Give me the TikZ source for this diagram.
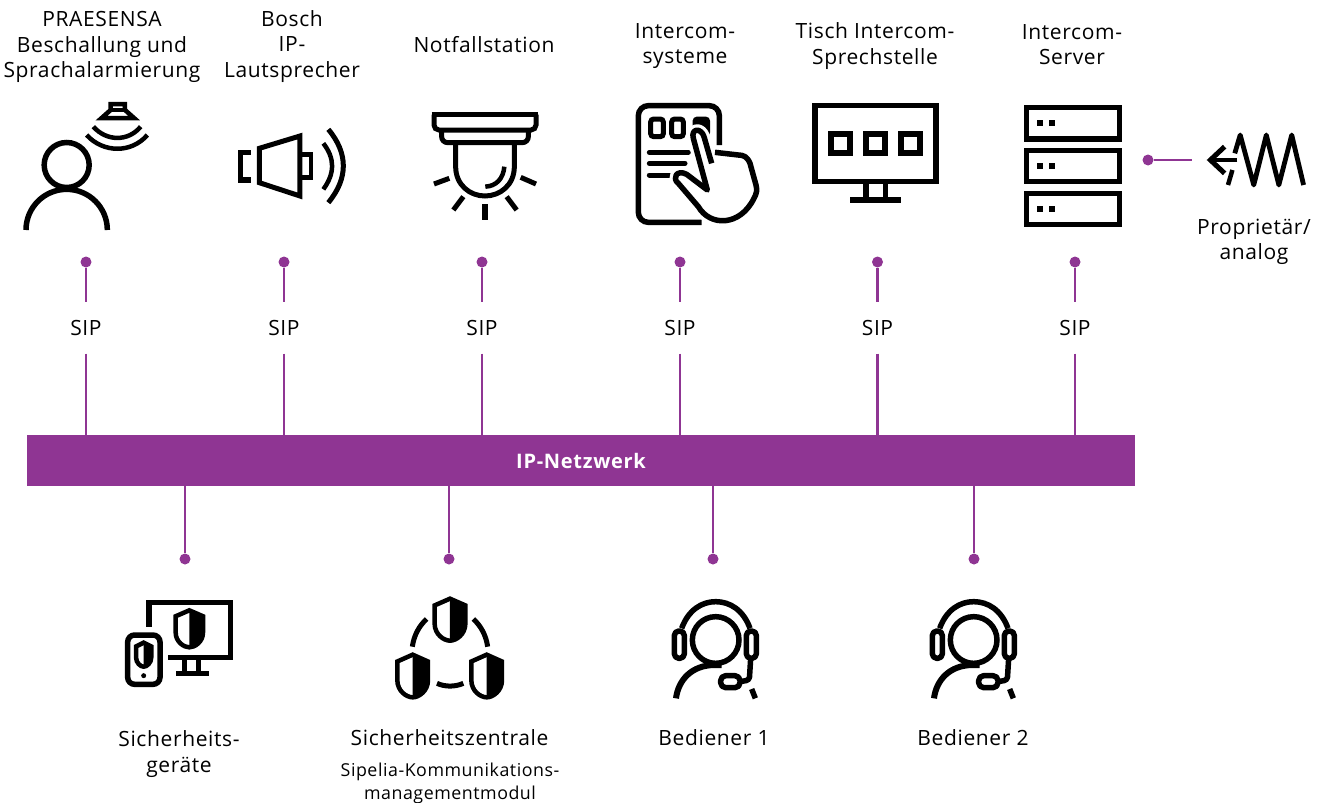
\documentclass[tikz,border=0pt]{standalone}
\usepackage{fontspec}
\setmainfont{Open Sans}
\newfontfamily\spaced[LetterSpace=3]{Open Sans}
\newfontfamily\spacedb[LetterSpace=3.5]{Open Sans}
\definecolor{netp}{HTML}{8F3593}
\newcommand{\lbl}{\spaced\fontsize{21}{25.5}\selectfont}
\newcommand{\lbs}{\spaced\fontsize{17.8}{23}\selectfont}
\tikzset{
  x=1pt,y=-1pt,
  txt/.style={align=center,inner sep=0pt,text=black,font=\lbl},
  txs/.style={align=center,inner sep=0pt,text=black,font=\lbs},
  sip/.style={txt,minimum height=51pt},
  dot/.style={circle,fill=netp,draw=none,minimum size=11pt,inner sep=0pt},
  wire/.style={draw=netp,line width=2.8pt},
  ic/.style={draw=black,line width=5.5pt,fill=none},
  ict/.style={draw=black,line width=4.5pt,fill=none},
  zm/.style={scale=0.33333},
  zw/.style={xscale=0.339,yscale=0.33333},
}
\newcommand{\shield}[5]{% cx top halfw bottom lw
  \fill[black] (#1,#2) -- (#1+#3,#2+0.16*#4-0.16*#2) -- (#1+#3,#2+0.6*#4-0.6*#2) .. controls (#1+#3,#2+0.85*#4-0.85*#2) and (#1+0.4*#3,#4) .. (#1,#4) -- cycle;
  \draw[draw=black,line width=#5,line join=miter] (#1,#2) -- (#1+#3,#2+0.16*#4-0.16*#2) -- (#1+#3,#2+0.6*#4-0.6*#2) .. controls (#1+#3,#2+0.85*#4-0.85*#2) and (#1+0.4*#3,#4) .. (#1,#4) .. controls (#1-0.4*#3,#4) and (#1-#3,#2+0.85*#4-0.85*#2) .. (#1-#3,#2+0.6*#4-0.6*#2) -- (#1-#3,#2+0.16*#4-0.16*#2) -- cycle;
}
\newcommand{\headset}{%
  \draw[ic,line width=5.5pt] (197,165) circle (70);
  \draw[ic,line width=5.5pt] (95,130) .. controls (115,75) and (155,50) .. (197,50) .. controls (240,50) and (280,75) .. (300,130);
  \draw[ic,line width=5.5pt,rounded corners=4.5pt,line join=round] (73,138) rectangle (103,220);
  \draw[ic,line width=5.5pt,rounded corners=4.5pt,line join=round] (289,138) rectangle (319,220);
  \draw[ic,line width=6pt] (78,340) .. controls (85,285) and (125,240) .. (195,240) -- (215,240);
  \draw[ic,line width=5.5pt,rounded corners=3pt,line join=round] (302,220) -- (298,285) -- (270,290);
  \draw[ic,line width=5.5pt,rounded corners=5pt,line join=round] (212,272) rectangle (270,308);
  \draw[ic,line width=5.5pt] (305,312) -- (316,340);
}
\begin{document}
\begin{tikzpicture}
\useasboundingbox (0,0) rectangle (1323,803);
% network bar
\node[fill=netp,minimum width=1108pt,minimum height=51pt,inner sep=0pt,text=white,font=\spacedb\fontsize{20}{22}\selectfont\bfseries] (net) at (581,460.5) {IP-Netzwerk};
% upper branches
\foreach \i/\xx in {1/86,2/284,3/482,4/680,5/877.5,6/1075}{
  \node[dot] (d\i) at (\xx,262) {};
  \node[sip] (s\i) at (\xx,328) {SIP};
  \draw[wire] (d\i) -- (s\i.north);
  \draw[wire] (s\i.south) -- (s\i.south |- net.north);
}
% lower branches
\foreach \i/\xx in {7/185,8/449,9/713,10/974}{
  \node[dot] (d\i) at (\xx,559) {};
  \draw[wire] (d\i |- net.south) -- (d\i);
}
% proprietary link
\node[dot] (dp) at (1148,160) {};
\coordinate (ep) at (1192,160);
\draw[wire] (dp) -- (ep);
% labels
\node[txt] (t1) at (102,47) {PRAESENSA\\Beschallung und\\Sprachalarmierung};
\node[txt] (t2) at (292,46.5) {Bosch\\IP-\\Lautsprecher};
\node[txt] (t3) at (484,44.5) {Notfallstation};
\node[txt] (t4) at (685,46) {Intercom-\\systeme};
\node[txt] (t5) at (875,46) {Tisch Intercom-\\Sprechstelle};
\node[txt] (t6) at (1072,44.5) {Intercom-\\Server};
\node[txt] (t7) at (1254,242) {Proprietär/\\analog};
\node[txt] (b1) at (179,754) {Sicherheits-\\geräte};
\node[txt] (b2) at (449.5,738) {Sicherheitszentrale};
\node[txs] (b2s) at (450,783) {Sipelia-Kommunikations-\\managementmodul};
\node[txt] (b3) at (714,738) {Bediener 1};
\node[txt] (b4) at (973,738) {Bediener 2};
% ---- icon: person with ceiling speaker
\begin{scope}[shift={(0,90)},zm]
  \draw[ic] (200,225) circle (67.5);
  \draw[ic,line width=5.5pt] (78,420) arc[start angle=180,end angle=360,radius=122];
  \draw[ict,line join=miter] (332,42) -- (375,42) -- (375,60) -- (402,84) -- (305,84) -- (332,60) -- cycle;
  \draw[ict] (332,60) -- (375,60);
  \draw[ict] (280,110) .. controls (320,155) and (385,155) .. (422,110);
  \draw[ict] (260,135) .. controls (310,190) and (395,190) .. (442,135);
\end{scope}
% ---- icon: loudspeaker
\begin{scope}[shift={(0,90)},zm]
  \draw[ic,line join=miter] (753,187) -- (721,187) -- (721,270) -- (753,270);
  \draw[ict,line join=miter,line width=5pt] (778,175) -- (900,138) -- (900,318) -- (778,278) -- cycle;
  \draw[ict,line join=miter] (905,194) -- (933,194) -- (933,262) -- (905,262);
  \draw[ict] (970,160) .. controls (1005,205) and (1005,250) .. (970,298);
  \draw[ict,line width=5pt] (985,118) .. controls (1045,190) and (1045,265) .. (985,338);
\end{scope}
% ---- icon: alarm station
\begin{scope}[shift={(410,90)},zm]
  \draw[ict,line width=5.5pt] (65,74) -- (385,74);
  \draw[ict,line width=5pt,rounded corners=5pt] (72,74) -- (72,120) -- (378,120) -- (378,74);
  \draw[ict,line width=5pt,rounded corners=6pt] (95,122) -- (95,158) -- (355,158) -- (355,122);
  \draw[ict,line width=5pt] (137,158) -- (137,230) .. controls (137,285) and (180,318) .. (225,318) .. controls (270,318) and (313,285) .. (313,230) -- (313,158);
  \draw[ict] (283,230) .. controls (280,265) and (260,288) .. (226,290);
  \draw[ict,line width=5pt] (72,282) -- (118,265);
  \draw[ict,line width=5pt] (130,360) -- (160,320);
  \draw[ict,line width=5.5pt] (225,343) -- (225,390);
  \draw[ict,line width=5pt] (290,320) -- (320,360);
  \draw[ict,line width=5pt] (332,262) -- (378,282);
\end{scope}
% ---- icon: tablet with hand
\begin{scope}[shift={(630,95)},zm]
  \draw[ic,line width=5.5pt,rounded corners=10pt] (215,382) -- (25,382) -- (25,32) -- (268,32) -- (268,150);
  \draw[ict,line width=5pt,rounded corners=3pt] (62,72) rectangle (100,125);
  \draw[ict,line width=5pt,rounded corners=3pt] (125,72) rectangle (160,125);
  \fill[black,rounded corners=4pt] (188,65) -- (240,65) -- (240,125) -- (188,125) -- cycle;
  \draw[ict,line width=5pt,line cap=round] (58,172) -- (175,172);
  \draw[ict,line width=5pt,line cap=round] (58,205) -- (165,205);
  \draw[ict,line width=5pt,line cap=round] (58,240) -- (118,240);
  \draw[draw=white,line width=12pt,fill=white,line join=round] (245,205) -- (222,125) .. controls (213,97) and (182,100) .. (190,130) -- (232,285) -- (170,238) .. controls (140,222) and (125,250) .. (145,265) -- (205,335) .. controls (240,395) and (330,395) .. (372,310) .. controls (380,295) and (382,285) .. (378,270) -- (360,205) .. controls (352,185) and (340,180) .. (325,180) -- (255,172) -- cycle;
  \draw[ict,line width=5.5pt,line join=round] (245,205) -- (222,125) .. controls (213,97) and (182,100) .. (190,130) -- (232,285) -- (170,238) .. controls (140,222) and (125,250) .. (145,265) -- (205,335) .. controls (240,395) and (330,395) .. (372,310) .. controls (380,295) and (382,285) .. (378,270) -- (360,205) .. controls (352,185) and (340,180) .. (325,180) -- (255,172);
\end{scope}
% ---- icon: desk station
\begin{scope}[shift={(790,90)},zw]
  \draw[ic,line width=5.5pt,line join=miter] (74,47) rectangle (430,274);
  \draw[ic,line width=6pt,line join=miter] (121,131) rectangle (177,189);
  \draw[ic,line width=6pt,line join=miter] (224,131) rectangle (281,189);
  \draw[ic,line width=6pt,line join=miter] (327,131) rectangle (383,189);
  \draw[ic] (224,280) -- (224,330);
  \draw[ic] (282,280) -- (282,330);
  \draw[ic,line width=6pt] (178,330) -- (326,330);
\end{scope}
% ---- icon: server
\begin{scope}[shift={(790,90)},zw]
  \draw[ic,line width=5.5pt,line join=miter] (698,53) rectangle (972,147);
  \draw[ic,line width=5.5pt,line join=miter] (698,181) rectangle (972,275);
  \draw[ic,line width=5.5pt,line join=miter] (698,310) rectangle (972,404);
  \foreach \yy in {90,219,348}{
    \fill[black] (728,\yy) rectangle ++(19,18);
    \fill[black] (763,\yy) rectangle ++(19,18);
  }
\end{scope}
% ---- icon: analog
\begin{scope}[shift={(790,90)},zw]
  \draw[ict,line width=4.5pt] (1320,210) -- (1240,210);
  \draw[ict,line width=5pt,line join=miter] (1282,170) -- (1240,210) -- (1282,250);
  \draw[ict,line width=4.5pt] (1292,285) -- (1305,240);
  \draw[ict,line width=4.8pt,line join=round] (1312,190) -- (1328,135) -- (1368,285) -- (1405,135) -- (1442,285) -- (1480,135) -- (1515,285);
\end{scope}
% ---- icon: security devices
\begin{scope}[shift={(110,585)},zm]
  \draw[ic,line join=miter] (117,125) -- (117,52) -- (362,52) -- (362,218) -- (175,218);
  \draw[ic,line width=5pt] (222,222) -- (222,265);
  \draw[ic,line width=5pt] (265,222) -- (265,265);
  \draw[ic,line width=5.5pt] (198,265) -- (296,265);
  \shield{238}{76}{41}{187}{4.5pt}
  \draw[ic,rounded corners=7pt] (53,150) rectangle (150,298);
  \shield{101}{173}{23}{245}{4.5pt}
  \fill[black] (101,272) circle (7.5);
\end{scope}
% ---- icon: security centre
\begin{scope}[shift={(110,585)},zm]
  \shield{1020}{41}{46}{167}{4.5pt}
  \shield{908}{209}{46}{337}{4.5pt}
  \shield{1130}{209}{46}{337}{4.5pt}
  \draw[ict,line width=5pt] (907,185) .. controls (912,150) and (928,122) .. (950,102);
  \draw[ict,line width=5pt] (1090,102) .. controls (1112,122) and (1128,150) .. (1133,185);
  \draw[ict,line width=5pt] (981,295) .. controls (1005,306) and (1035,306) .. (1060,295);
\end{scope}
% ---- icons: operators
\begin{scope}[shift={(650,585)},zm]\headset\end{scope}
\begin{scope}[shift={(908,585)},zm]\headset\end{scope}
\end{tikzpicture}
\end{document}
